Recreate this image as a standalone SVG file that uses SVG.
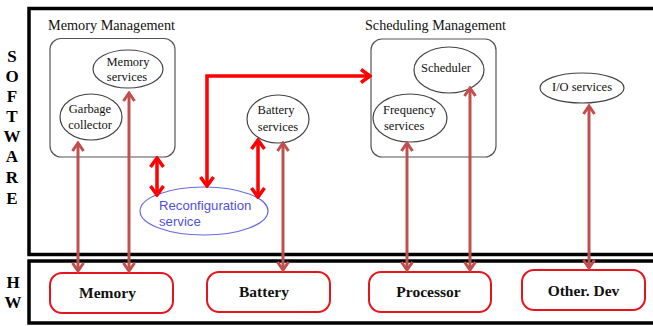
<svg xmlns="http://www.w3.org/2000/svg" width="653" height="326" viewBox="0 0 653 326">
<style>
.frame{fill:none;stroke:#000;stroke-width:3.5}
.cont{fill:none;stroke:#555;stroke-width:1.2}
.ell{fill:#fff;stroke:#444;stroke-width:1.2}
.hw{fill:#fff;stroke:#e8141c;stroke-width:2}
.t{font-family:"Liberation Serif",serif;font-size:12.5px;fill:#111}
.lbl{font-family:"Liberation Serif",serif;font-size:14px;fill:#111}
.side{font-family:"Liberation Serif",serif;font-size:17px;font-weight:bold;fill:#000;text-anchor:middle}
.hwt{font-family:"Liberation Serif",serif;font-size:15.5px;font-weight:bold;fill:#111;text-anchor:middle}
.br{fill:none;stroke:#c0504d;stroke-width:3;marker-start:url(#hb);marker-end:url(#hb)}
.rd{fill:none;stroke:#ff0000;stroke-width:3.5;marker-start:url(#hr);marker-end:url(#hr)}
.mid{text-anchor:middle}
</style>
<defs>
<marker id="hb" viewBox="-10 -8 12 16" markerWidth="12" markerHeight="16" refX="0" refY="0" orient="auto-start-reverse" markerUnits="userSpaceOnUse">
<path d="M-8,-5.5 L0,0 L-8,5.5" fill="none" stroke="#c0504d" stroke-width="3"/>
</marker>
<marker id="hr" viewBox="-11 -9 13 18" markerWidth="13" markerHeight="18" refX="0" refY="0" orient="auto-start-reverse" markerUnits="userSpaceOnUse">
<path d="M-9,-6.5 L0,0 L-9,6.5" fill="none" stroke="#ff0000" stroke-width="3.5"/>
</marker>
</defs>
<rect width="653" height="326" fill="#fff"/>
<g id="software-frame">
<rect class="frame" x="29" y="8.5" width="640" height="246"/>
<text class="side" x="12" y="62">S</text>
<text class="side" x="12" y="82">O</text>
<text class="side" x="12" y="102">F</text>
<text class="side" x="12" y="122">T</text>
<text class="side" x="12" y="142">W</text>
<text class="side" x="12" y="162">A</text>
<text class="side" x="12" y="183">R</text>
<text class="side" x="12" y="204">E</text>
</g>
<g id="hw-frame">
<rect class="frame" x="29" y="261" width="640" height="62"/>
<text class="side" x="13" y="288">H</text>
<text class="side" x="13" y="308">W</text>
</g>
<g id="memory-management">
<text class="lbl" x="48" y="30" textLength="127" lengthAdjust="spacingAndGlyphs">Memory Management</text>
<rect class="cont" x="50" y="38.5" width="125" height="118.5" rx="11"/>
</g>
<g id="memory-services">
<ellipse class="ell" cx="128" cy="69" rx="35" ry="19"/>
<text class="t mid" x="128" y="66">Memory</text>
<text class="t mid" x="127" y="81">services</text>
</g>
<g id="garbage-collector">
<ellipse class="ell" cx="91" cy="117" rx="31" ry="23"/>
<text class="t mid" x="90" y="113">Garbage</text>
<text class="t mid" x="90" y="129">collector</text>
</g>
<g id="battery-services">
<ellipse class="ell" cx="278" cy="119" rx="31" ry="24"/>
<text class="t mid" x="276" y="114">Battery</text>
<text class="t mid" x="278" y="131">services</text>
</g>
<g id="scheduling-management">
<text class="lbl" x="365" y="30" textLength="141" lengthAdjust="spacingAndGlyphs">Scheduling Management</text>
<rect class="cont" x="371" y="39" width="125" height="118" rx="11"/>
</g>
<g id="scheduler">
<ellipse class="ell" cx="449" cy="70" rx="35" ry="23"/>
<text class="t mid" x="446" y="72">Scheduler</text>
</g>
<g id="frequency-services">
<ellipse class="ell" cx="410" cy="118" rx="37" ry="24"/>
<text class="t" x="383" y="114">Frequency</text>
<text class="t" x="384" y="130">services</text>
</g>
<g id="io-services">
<ellipse class="ell" cx="582" cy="88" rx="42" ry="15"/>
<text class="t mid" x="582" y="91">I/O services</text>
</g>
<g id="reconfiguration-service">
<ellipse cx="204" cy="211" rx="64" ry="24" fill="#fff" stroke="#6b6be6" stroke-width="1.2"/>
<text x="159" y="210" font-family="'Liberation Sans',Arial,sans-serif" font-size="13.2" fill="#5050dc">Reconfiguration</text>
<text x="159" y="226" font-family="'Liberation Sans',Arial,sans-serif" font-size="13.2" fill="#5050dc">service</text>
</g>
<g id="hw-memory">
<rect class="hw" x="50" y="273" width="123" height="40" rx="12"/>
<text class="hwt" x="107.5" y="298">Memory</text>
</g>
<g id="hw-battery">
<rect class="hw" x="207" y="272" width="123" height="40" rx="12"/>
<text class="hwt" x="264" y="297">Battery</text>
</g>
<g id="hw-processor">
<rect class="hw" x="369" y="272" width="122" height="40" rx="12"/>
<text class="hwt" x="428.5" y="297">Processor</text>
</g>
<g id="hw-other-dev">
<rect class="hw" x="522" y="270" width="123" height="40" rx="12"/>
<text class="hwt" x="583.5" y="296">Other. Dev</text>
</g>
<g id="connectors">
<path class="br" d="M78,143 L78,271"/>
<path class="br" d="M129,93 L129,271"/>
<path class="br" d="M283,143 L283,270"/>
<path class="br" d="M407,143 L407,270"/>
<path class="br" d="M470,88 L470,270"/>
<path class="br" d="M589,106 L589,268"/>
<path class="rd" d="M157,158 L157,195"/>
<path class="rd" d="M207,186 L207,76 L370,76"/>
<path class="rd" d="M258,140 L258,197"/>
</g>
</svg>
